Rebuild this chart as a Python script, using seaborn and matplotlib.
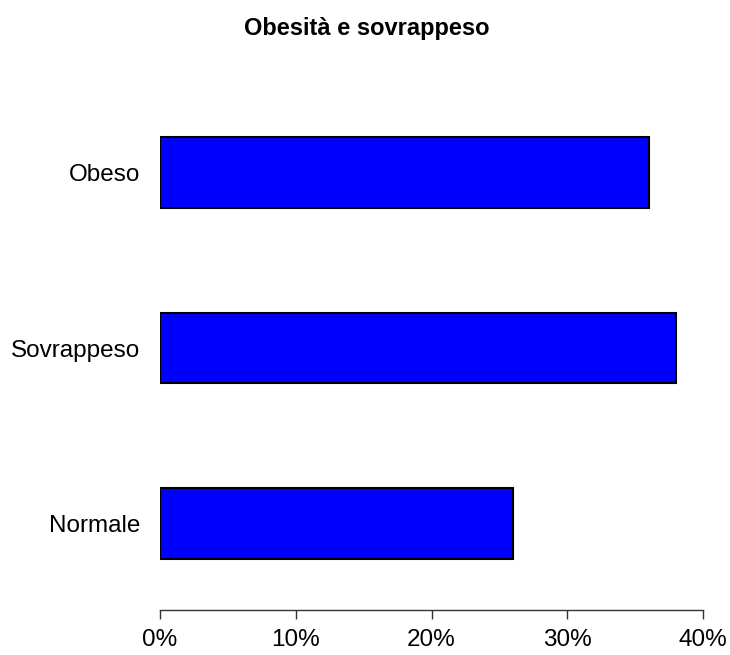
import numpy as np
import pandas as pd
import matplotlib
matplotlib.use("Agg")
import matplotlib.pyplot as plt
import seaborn as sns
from matplotlib.ticker import FuncFormatter

# Data
categories = ["Obeso", "Sovrappeso", "Normale"]
percentages = [36, 38, 26]

df = pd.DataFrame({"categoria": categories, "percentuale": percentages})

sns.set_style("white")
plt.rcParams["font.family"] = ["Liberation Sans", "DejaVu Sans"]
plt.rcParams["text.color"] = "black"

fig = plt.figure(figsize=(7.3, 6.55), dpi=100)
ax = fig.add_axes([160 / 730, 1 - 610 / 655, 543 / 730, 524 / 655])

sns.barplot(data=df, x="percentuale", y="categoria", order=categories,
            orient="h", color="#0000ff", saturation=1, width=0.4,
            edgecolor="black", linewidth=1.5, ax=ax)

ax.set_xlim(0, 40)
ax.set_ylim(2.493, -0.493)
ax.set_xticks([0, 10, 20, 30, 40])
ax.xaxis.set_major_formatter(FuncFormatter(lambda v, _: f"{v:.0f}%"))
ax.set_xlabel("")
ax.set_ylabel("")

for side in ["top", "right", "left"]:
    ax.spines[side].set_visible(False)
ax.spines["bottom"].set_color("#333333")
ax.spines["bottom"].set_linewidth(1)

ax.tick_params(axis="x", direction="out", length=6.5, width=1, color="#333333",
               labelsize=17.5, labelcolor="black", pad=7, bottom=True)
ax.tick_params(axis="y", length=0, labelsize=17.5, labelcolor="black", pad=14)

fig.text(367 / 730, 1 - 28 / 655, "Obesità e sovrappeso", ha="center", va="center",
         fontsize=17, fontweight="bold")

fig.savefig("out.png", dpi=100)
